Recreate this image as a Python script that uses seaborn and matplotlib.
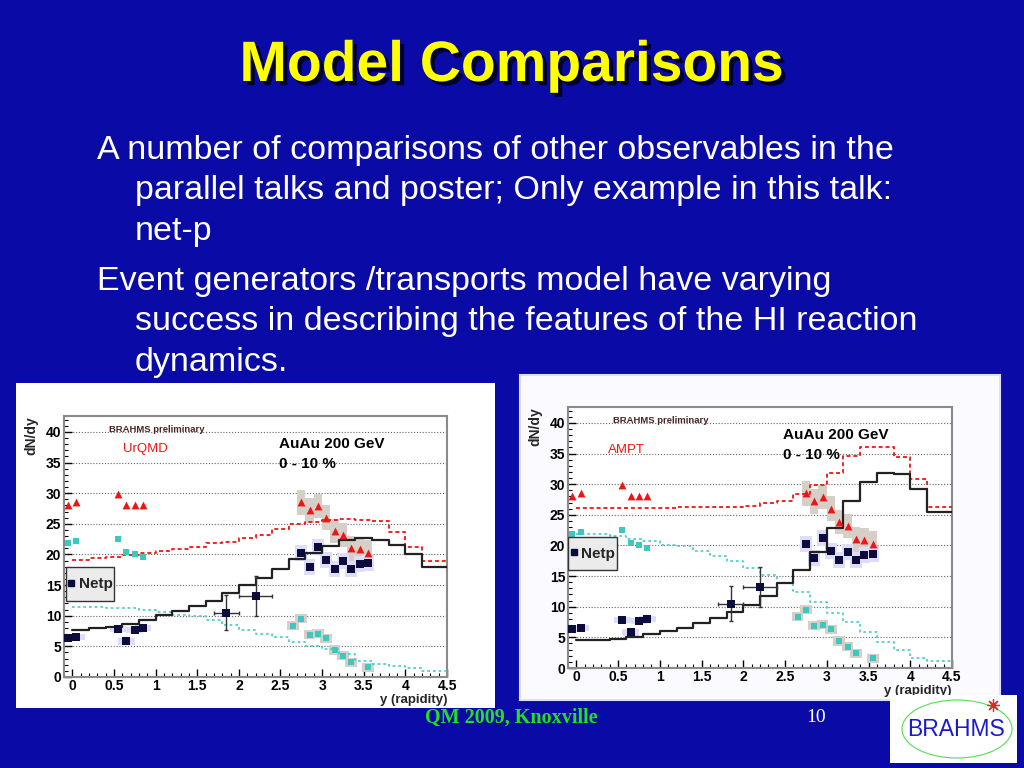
import numpy as np
import pandas as pd
import matplotlib
matplotlib.use("Agg")
import matplotlib.pyplot as plt
import matplotlib.patheffects as pe
from matplotlib.patches import Rectangle, Ellipse
from matplotlib.lines import Line2D
from matplotlib.ticker import MultipleLocator, FormatStrFormatter
import seaborn as sns

# ---------------- data ----------------
# model histograms, lower bin edges (bin width 0.2 in rapidity)
bin_lo = [0.0, 0.2, 0.4, 0.6, 0.8, 1.0, 1.2, 1.4, 1.6, 1.8, 2.0, 2.2,
          2.4, 2.6, 2.8, 3.0, 3.2, 3.4, 3.6, 3.8, 4.0, 4.2, 4.4]
bin_width = 0.2

urqmd_netp = [7.7, 8.0, 8.2, 8.7, 9.3, 10.1, 10.8, 11.6, 12.4, 13.7, 15.0, 16.2,
              17.7, 19.2, 20.3, 21.4, 22.3, 22.7, 22.4, 21.6, 20.1, 17.9, 17.9]
urqmd_p = [19.1, 19.4, 19.6, 19.9, 20.2, 20.6, 20.9, 21.3, 21.8, 22.1, 22.7, 23.2,
           24.1, 24.9, 25.3, 25.7, 25.8, 25.7, 25.4, 23.6, 21.3, 19.0, 19.0]
urqmd_pbar = [11.4, 11.4, 11.3, 11.2, 10.9, 10.6, 10.2, 9.9, 9.3, 8.5, 7.7, 7.0,
              6.5, 5.7, 5.1, 4.6, 3.8, 2.6, 2.2, 1.8, 1.4, 1.0, 1.0]

ampt_netp = [4.6, 4.6, 4.8, 5.1, 5.6, 6.0, 6.6, 7.3, 8.1, 9.2, 10.3, 11.8,
             13.8, 16.0, 19.0, 22.8, 27.2, 30.3, 31.9, 31.7, 29.2, 25.4, 25.4]
ampt_p = [26.1, 26.1, 26.1, 26.1, 26.1, 26.1, 26.2, 26.2, 26.3, 26.3, 26.4, 26.9,
          27.3, 28.4, 29.9, 31.9, 34.6, 36.1, 36.1, 34.4, 30.9, 26.3, 26.3]
ampt_pbar = [21.9, 21.8, 21.6, 21.0, 20.7, 20.1, 19.9, 19.1, 18.2, 17.4, 16.3, 15.2,
             13.8, 12.4, 10.8, 9.0, 7.5, 5.9, 4.3, 2.9, 1.7, 1.1, 1.1]

# BRAHMS preliminary data points
y_low = [-0.05, 0.05, 0.55, 0.65, 0.75, 0.85]
y_high = [2.75, 2.85, 2.95, 3.05, 3.15, 3.25, 3.35, 3.45, 3.55]
y_pbar_high = [2.65, 2.75, 2.85, 2.95, 3.05, 3.15, 3.25, 3.35, 3.55]
p_low = [28.0, 28.5, 29.9, 28.0, 28.0, 28.1]
p_high = [28.5, 27.2, 27.9, 26.0, 23.8, 23.2, 21.0, 20.9, 20.3]
pbar_low = [21.8, 22.2, 22.5, 20.4, 20.1, 19.6]
pbar_high = [8.4, 9.5, 6.9, 7.1, 6.3, 4.4, 3.5, 2.4, 1.6]
netp_low = [6.4, 6.5, 7.9, 5.8, 7.7, 8.0]
netp_high = [20.2, 17.9, 21.2, 19.1, 17.6, 18.9, 17.7, 18.5, 18.6]
y_mid = [1.85, 2.2]
netp_mid = [10.5, 13.2]
netp_mid_xerr = [0.15, 0.2]
netp_mid_yerr = [2.9, 3.3]

bullets = [
    ("A number of comparisons of other observables in the", 0),
    ("parallel talks and poster; Only example in this talk:", 1),
    ("net-p", 1),
    ("Event generators /transports model have varying", 0),
    ("success in describing the features of the HI reaction", 1),
    ("dynamics.", 1),
]

# ---------------- style ----------------
sns.set_theme(style="ticks")
plt.rcParams['font.family'] = ['Liberation Sans', 'DejaVu Sans']

W, H = 1024, 768
BG = '#0a0aa6'
RED = '#ee1515'
CYAN = '#3cc8c0'
NAVY = '#0c0c3c'
GREYBOX = '#d6cfc8'
LAVBOX = '#dedcf6'

fig = plt.figure(figsize=(W / 100, H / 100), dpi=100, facecolor=BG)


def fx(x):
    return x / W


def fy(y):
    return 1 - y / H


# title and bullets
fig.text(fx(512), fy(66), "Model Comparisons", color='#ffff00', fontsize=41,
         fontweight='bold', ha='center', va='center',
         path_effects=[pe.SimplePatchShadow(offset=(3, -3), shadow_rgbFace='#000020', alpha=0.9),
                       pe.Normal()])
base_y = [159, 199, 240, 290, 330, 371]
for (txt, indent), by in zip(bullets, base_y):
    fig.text(fx(97 if indent == 0 else 135), fy(by), txt, color='white',
             fontsize=24.5, ha='left', va='baseline')

# footer
fig.text(fx(511), fy(718), "QM 2009, Knoxville", color='#22e022', fontsize=14.5,
         fontweight='bold', family=['Liberation Serif', 'DejaVu Serif'], ha='center', va='center')
fig.text(fx(816), fy(718), "10", color='white', fontsize=14,
         family=['Liberation Serif', 'DejaVu Serif'], ha='center', va='center')

# white canvases behind the two plots
fig.add_artist(Rectangle((fx(16), fy(708)), 479 / W, 325 / H, transform=fig.transFigure,
                         facecolor='white', edgecolor='none', zorder=0))
fig.add_artist(Rectangle((fx(520), fy(700)), 480 / W, 325 / H, transform=fig.transFigure,
                         facecolor='#fbfbff', edgecolor='#dde0f8', lw=1.5, zorder=0))


def add_boxes(ax, xs, vs, hw, hh, color):
    for x, v in zip(xs, vs):
        ax.add_patch(Rectangle((x - hw, v - hh), 2 * hw, 2 * hh, facecolor=color,
                               edgecolor='none', zorder=1.5))


def draw_panel(ax, netp_m, p_m, pbar_m, name, name_pos, leg_box):
    edges = bin_lo + [bin_lo[-1] + bin_width]
    for vals, col, ls, lw in [(p_m, RED, (0, (2.2, 1.6)), 1.3),
                              (pbar_m, '#44cccc', (0, (1.6, 1.8)), 1.2),
                              (netp_m, '#222222', '-', 1.6)]:
        df = pd.DataFrame({'y': edges, 'v': list(vals) + [vals[-1]]})
        sns.lineplot(data=df, x='y', y='v', drawstyle='steps-post', estimator=None,
                     sort=False, color=col, linestyle=ls, lw=lw, ax=ax, zorder=3)

    # systematic boxes
    add_boxes(ax, y_high, p_high, 0.05, 2.0, GREYBOX)
    add_boxes(ax, y_pbar_high, pbar_high, 0.07, 0.75, GREYBOX)
    add_boxes(ax, y_high, netp_high, 0.07, 1.3, LAVBOX)
    add_boxes(ax, y_low, netp_low, 0.1, 0.5, LAVBOX)

    # data points
    sns.scatterplot(x=y_low + y_high, y=p_low + p_high, marker='^', color=RED,
                    s=32, linewidth=0, ax=ax, zorder=5)
    sns.scatterplot(x=y_low + y_pbar_high, y=pbar_low + pbar_high, marker='s', color=CYAN,
                    s=22, linewidth=0, ax=ax, zorder=5)
    sns.scatterplot(x=y_low + y_mid + y_high, y=netp_low + netp_mid + netp_high, marker='s',
                    color=NAVY, s=34, linewidth=0, ax=ax, zorder=6)
    ax.errorbar(y_mid, netp_mid, xerr=netp_mid_xerr, yerr=netp_mid_yerr, fmt='none',
                ecolor='#333333', elinewidth=1.0, capsize=1.5, zorder=4)

    ax.set_xlim(-0.1, 4.5)
    ax.set_ylim(0, 42.6)
    ax.xaxis.set_major_locator(MultipleLocator(0.5))
    ax.xaxis.set_minor_locator(MultipleLocator(0.1))
    ax.yaxis.set_major_locator(MultipleLocator(5))
    ax.yaxis.set_minor_locator(MultipleLocator(1))
    ax.xaxis.set_major_formatter(FormatStrFormatter('%g'))
    ax.tick_params(which='both', direction='in', colors='black', labelsize=10, pad=2)
    ax.tick_params(axis='x', pad=1.5)
    ax.tick_params(which='major', length=6, width=1.0)
    ax.tick_params(which='minor', length=3, width=0.8)
    for lab in ax.get_xticklabels() + ax.get_yticklabels():
        lab.set_fontweight('bold')
    ax.yaxis.grid(True, which='major', linestyle=(0, (1, 1.6)), color='#666666', lw=0.8)
    ax.set_axisbelow(True)
    for sp in ax.spines.values():
        sp.set_visible(True)
        sp.set_color('#8a8a8a')
        sp.set_linewidth(1.5)

    ax.set_xlabel('y (rapidity)', loc='right', fontweight='bold', fontsize=9.5, labelpad=0.5)
    ax.set_ylabel('dN/dy', loc='top', fontweight='bold', fontsize=10, labelpad=5)

    ax.text(0.2415, 0.95, 'BRAHMS preliminary', transform=ax.transAxes, ha='center',
            va='center', fontsize=6.8, fontweight='bold', color='#4a2424')
    ax.text(name_pos[0], name_pos[1], name, transform=ax.transAxes, ha='left',
            va='center', fontsize=9.5, color=RED)
    ax.text(0.561, 0.893, 'AuAu 200 GeV', transform=ax.transAxes, ha='left',
            va='center', fontsize=11, fontweight='bold', color='black')
    ax.text(0.561, 0.818, '0 - 10 %', transform=ax.transAxes, ha='left',
            va='center', fontsize=11, fontweight='bold', color='black')

    # ROOT style legend box
    ax.add_patch(Rectangle((leg_box[0], leg_box[1]), leg_box[2], leg_box[3],
                           transform=ax.transAxes, facecolor='#ebebeb',
                           edgecolor='#333333', lw=1.0, zorder=7))
    handle = Line2D([], [], marker='s', color=NAVY, ls='none', markersize=4.5)
    leg = ax.legend([handle], ['Netp'], loc='center', bbox_to_anchor=leg_box,
                    frameon=False, handlelength=0.5, handletextpad=0.25,
                    borderpad=0, borderaxespad=0,
                    prop={'weight': 'bold', 'size': 11})
    leg.set_zorder(8)


ax1 = fig.add_axes([fx(64), fy(677), 383 / W, 261 / H], facecolor='white')
draw_panel(ax1, urqmd_netp, urqmd_p, urqmd_pbar, 'UrQMD', (0.154, 0.874),
           (0.005, 0.291, 0.125, 0.13))

ax2 = fig.add_axes([fx(568), fy(668), 384 / W, 261 / H], facecolor='white')
draw_panel(ax2, ampt_netp, ampt_p, ampt_pbar, 'AMPT', (0.104, 0.835),
           (0.0, 0.375, 0.128, 0.127))

# BRAHMS logo
lax = fig.add_axes([fx(890), fy(763), 127 / W, 68 / H])
lax.set_xlim(0, 127)
lax.set_ylim(0, 68)
lax.axis('off')
lax.add_patch(Rectangle((0, 0), 127, 68, facecolor='white', edgecolor='none'))
lax.add_patch(Ellipse((67, 34), 110, 58, facecolor='none', edgecolor='#55dd55', lw=0.8))
lax.text(66, 33, 'BRAHMS', color='#1a1ad0', fontsize=16.5, ha='center', va='center')
lax.plot([103], [58], marker=(8, 2, 0), color='#ee2020', markersize=9, mew=0.9)

fig.savefig('out.png', dpi=100, facecolor=fig.get_facecolor())
